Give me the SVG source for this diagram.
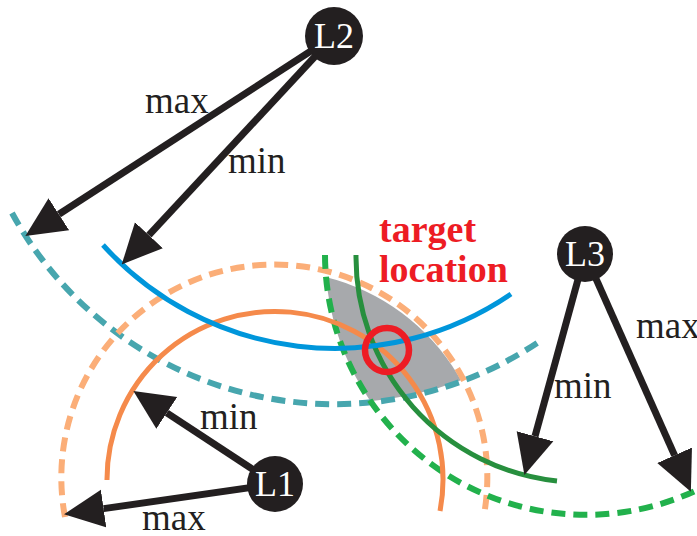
<svg xmlns="http://www.w3.org/2000/svg" width="697" height="536" viewBox="0 0 697 536">
  <style>
    .rng { fill: none; }
    .solid { stroke-width: 5; }
    .dash { stroke-width: 6; stroke-dasharray: 14 8; }
    .arrow { stroke: #231F20; stroke-width: 7; fill: none; marker-end: url(#head); }
    .lbl { font-size: 37px; fill: #231F20; }
    .node circle { fill: #231F20; }
    .node text { font-size: 36px; fill: #ffffff; text-anchor: middle; }
    .target { font-size: 38px; font-weight: bold; fill: #ED1C24; }
  </style>
  <defs>
    <marker id="head" markerUnits="userSpaceOnUse" markerWidth="40" markerHeight="40" viewBox="0 0 40 40" refX="0" refY="20" orient="auto">
      <path d="M0,1 L40,20 L0,39 z" fill="#231F20"/>
    </marker>
    <clipPath id="clipL1max"><circle cx="275" cy="484" r="213"/></clipPath>
    <clipPath id="clipL2max"><circle cx="334" cy="36" r="367"/></clipPath>
  </defs>

  <g id="feasible-region" clip-path="url(#clipL1max)">
    <g clip-path="url(#clipL2max)">
      <circle cx="586" cy="254" r="261" fill="#A7A9AC"/>
    </g>
  </g>

  <g id="ranges">
    <path class="rng dash" stroke="#47A6AE" d="M12 213 A367 367 0 0 0 540 341"/>
    <path class="rng dash" stroke="#FBAE78" d="M65 517 A213 213 0 1 1 484 515"/>
    <path class="rng dash" stroke="#22B14C" d="M325 255 A261 261 0 0 0 695 491"/>
    <path class="rng solid" stroke="#F58A4B" d="M107 480 A168 168 0 1 1 440 511"/>
    <path class="rng solid" stroke="#278F3E" d="M356 255 A225 225 0 0 0 557 481"/>
    <path class="rng solid" stroke="#0096DB" d="M103 245 A312 312 0 0 0 511 294"/>
  </g>

  <g id="target" font-family="Liberation Serif, DejaVu Serif, serif">
    <circle cx="387" cy="350" r="22" fill="none" stroke="#ED1C24" stroke-width="6.5"/>
    <text class="target" x="379" y="242">target</text>
    <text class="target" x="379" y="282">location</text>
  </g>

  <g id="connectors" font-family="Liberation Serif, DejaVu Serif, serif">
    <line class="arrow" x1="334" y1="36" x2="58.9" y2="214.3"/>
    <line class="arrow" x1="334" y1="36" x2="148.9" y2="235.2"/>
    <line class="arrow" x1="275" y1="484" x2="166.8" y2="412.9"/>
    <line class="arrow" x1="275" y1="484" x2="103.6" y2="508.6"/>
    <line class="arrow" x1="585" y1="254" x2="535" y2="436.3"/>
    <line class="arrow" x1="585" y1="254" x2="674.6" y2="455.3"/>
    <text class="lbl" x="145" y="113">max</text>
    <text class="lbl" x="228" y="173">min</text>
    <text class="lbl" x="200" y="429">min</text>
    <text class="lbl" x="142" y="530">max</text>
    <text class="lbl" x="554" y="398">min</text>
    <text class="lbl" x="636" y="338">max</text>
  </g>

  <g id="L1" class="node" font-family="Liberation Serif, DejaVu Serif, serif">
    <circle cx="275" cy="484" r="28"/>
    <text x="275" y="496">L1</text>
  </g>
  <g id="L2" class="node" font-family="Liberation Serif, DejaVu Serif, serif">
    <circle cx="334" cy="36" r="29"/>
    <text x="334" y="48">L2</text>
  </g>
  <g id="L3" class="node" font-family="Liberation Serif, DejaVu Serif, serif">
    <circle cx="585" cy="254" r="28"/>
    <text x="585" y="266">L3</text>
  </g>
</svg>
